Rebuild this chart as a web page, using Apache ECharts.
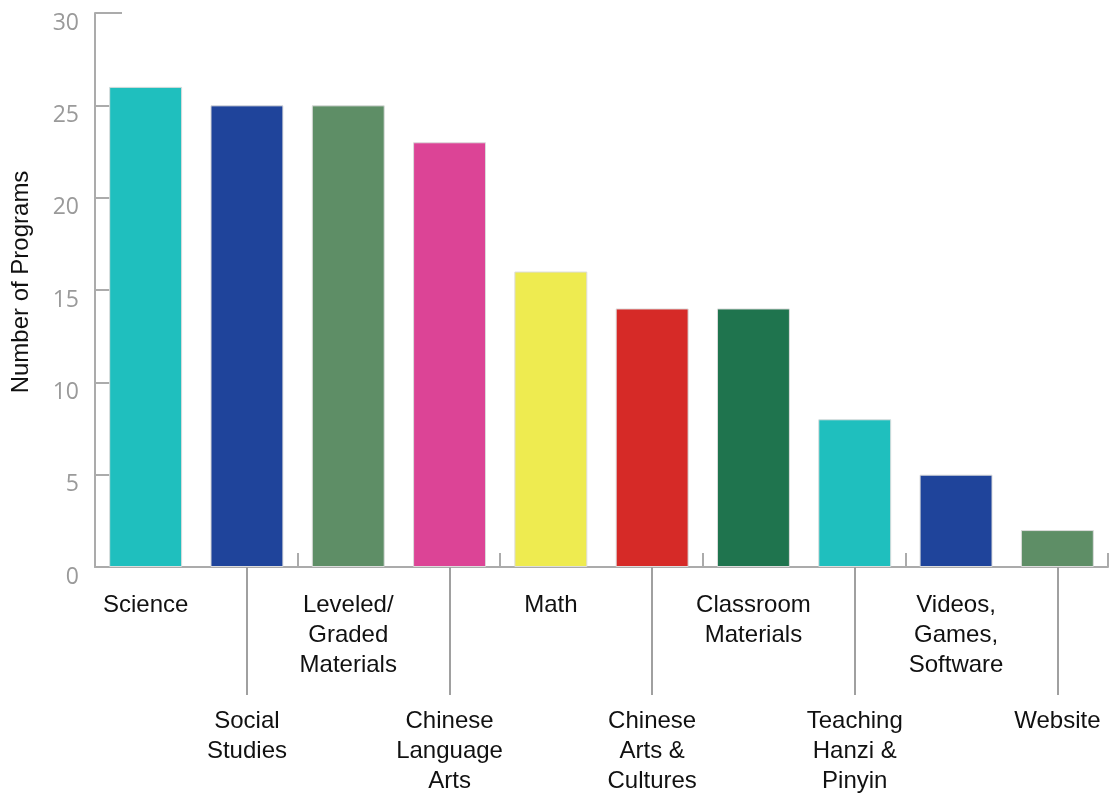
<!DOCTYPE html>
<html>
<head>
<meta charset="utf-8">
<script src="https://cdn.jsdelivr.net/npm/echarts@6/dist/echarts.min.js"></script>
<style>
  html, body { margin: 0; padding: 0; background: #fff; }
  #chart { width: 1110px; height: 797px; }
</style>
</head>
<body>
<div id="chart"></div>
<script>
// Program counts by material type
const categories = [
  'Science', 'Social\nStudies', 'Leveled/\nGraded\nMaterials', 'Chinese\nLanguage\nArts',
  'Math', 'Chinese\nArts &\nCultures', 'Classroom\nMaterials', 'Teaching\nHanzi &\nPinyin',
  'Videos,\nGames,\nSoftware', 'Website'
];
const programCounts = [26, 25, 25, 23, 16, 14, 14, 8, 5, 2];
const barColors = [
  '#1FBFBE', '#1F449B', '#5E8E66', '#DC4496', '#EEEB50',
  '#D62A27', '#1F744E', '#1FBFBE', '#1F449B', '#5E8E66'
];
const yTicks = { min: 0, max: 30, interval: 5 };

const axisGray = '#ababab';
const labelFont = "'Liberation Sans', Arial, sans-serif";
const isEven = (i) => i % 2 === 0;
const isOdd = (i) => i % 2 === 1;

const chart = echarts.init(document.getElementById('chart'));
chart.setOption({
  animation: false,
  grid: { left: 95, right: 2, top: 13, bottom: 230 },
  xAxis: [
    {
      type: 'category',
      data: categories,
      position: 'bottom',
      axisLine: { lineStyle: { color: axisGray, width: 2 } },
      axisTick: { show: true, inside: true, length: 14, alignWithLabel: false,
                  lineStyle: { color: axisGray, width: 2 } },
      axisLabel: {
        interval: (i) => isEven(i),
        margin: 23,
        color: '#111',
        fontFamily: labelFont,
        fontSize: 24,
        lineHeight: 30
      }
    },
    {
      type: 'category',
      data: categories,
      position: 'bottom',
      axisLine: { show: false },
      axisTick: { show: true, inside: false, length: 128, alignWithLabel: true,
                  interval: (i) => isOdd(i),
                  lineStyle: { color: '#a0a0a0', width: 2 } },
      axisLabel: {
        interval: (i) => isOdd(i),
        margin: 139,
        color: '#111',
        fontFamily: labelFont,
        fontSize: 24,
        lineHeight: 30
      }
    }
  ],
  yAxis: {
    type: 'value',
    min: yTicks.min,
    max: yTicks.max,
    interval: yTicks.interval,
    name: 'Number of Programs',
    nameLocation: 'middle',
    nameGap: 62,
    nameTextStyle: {
      color: '#111',
      fontFamily: labelFont,
      fontSize: 24,
      padding: [0, 0, 0, 16]
    },
    axisLine: { show: true, lineStyle: { color: axisGray, width: 2 } },
    axisTick: { show: true, inside: true, length: 27,
                lineStyle: { color: axisGray, width: 2 } },
    splitLine: { show: false },
    axisLabel: {
      margin: 16,
      color: '#9a9a9a',
      fontFamily: "'Open Sans', sans-serif",
      fontSize: 23,
      verticalAlign: 'top',
      lineHeight: 20
    }
  },
  series: [
    {
      type: 'bar',
      xAxisIndex: 0,
      barCategoryGap: '28%',
      z: 3,
      data: programCounts.map((v, i) => ({
        value: v,
        itemStyle: { color: barColors[i], borderColor: '#dcdcdc', borderWidth: 1 }
      }))
    }
  ]
});
</script>
</body>
</html>
